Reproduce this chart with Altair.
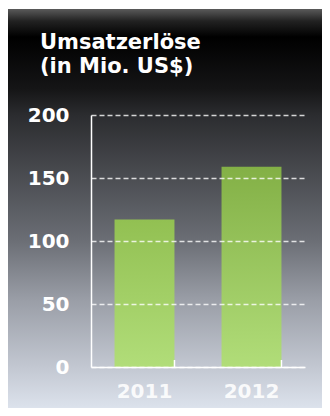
import altair as alt
import pandas as pd

years = ["2011", "2012"]
revenue = [117, 159]
y_ticks = [0, 50, 100, 150, 200]
title_lines = ["Umsatzerlöse", "(in Mio. US$)"]

df = pd.DataFrame({"year": years, "revenue": revenue})
one_df = pd.DataFrame({"k": [0]})

FONT = "DejaVu Sans"

bg = alt.Chart(one_df).mark_rect(
    color=alt.Gradient(
        gradient="linear",
        stops=[
            alt.GradientStop(color="#5a5a5a", offset=0.0),
            alt.GradientStop(color="#222222", offset=0.03),
            alt.GradientStop(color="#000000", offset=0.07),
            alt.GradientStop(color="#151516", offset=0.2),
            alt.GradientStop(color="#2b2c2f", offset=0.265),
            alt.GradientStop(color="#6b6e75", offset=0.58),
            alt.GradientStop(color="#9a9ea7", offset=0.73),
            alt.GradientStop(color="#c3c8d2", offset=0.9),
            alt.GradientStop(color="#dce2ec", offset=1.0),
        ],
        x1=0, x2=0, y1=0, y2=1,
    )
).encode(x=alt.value(-83), x2=alt.value(231), y=alt.value(-106), y2=alt.value(293))

title = alt.Chart(one_df).mark_text(
    text=title_lines, font=FONT, fontSize=21, fontWeight="bold", color="white",
    align="left", baseline="alphabetic", lineHeight=24,
).encode(x=alt.value(-51), y=alt.value(-66))

xenc = alt.X(
    "year:N",
    scale=alt.Scale(paddingInner=0.44, paddingOuter=0.22),
    axis=alt.Axis(
        title=None, labelAngle=0, ticks=False, domainColor="white", domainWidth=1.5,
        labelFont=FONT, labelFontWeight="bold", labelFontSize=20, labelColor="white",
        labelOpacity=0.88, labelPadding=14, zindex=1,
    ),
)
yenc = alt.Y(
    "revenue:Q",
    scale=alt.Scale(domain=[0, 200]),
    axis=alt.Axis(
        title=None, values=y_ticks, ticks=False, domainColor="white", domainWidth=1.5,
        labelFont=FONT, labelFontWeight="bold", labelFontSize=20, labelColor="white",
        labelPadding=22, grid=True, gridColor="white", gridDash=[5, 3], gridWidth=1.5,
        gridOpacity=0.8, zindex=1,
    ),
)

def bar_layer(yr, top, bottom):
    return alt.Chart(df).transform_filter(alt.datum.year == yr).mark_bar(
        color=alt.Gradient(
            gradient="linear",
            stops=[alt.GradientStop(color=top, offset=0), alt.GradientStop(color=bottom, offset=1)],
            x1=0, x2=0, y1=0, y2=1,
        )
    ).encode(x=xenc, y=yenc)

bars1 = bar_layer("2011", "#92c052", "#b1dd79")
bars2 = bar_layer("2012", "#83b046", "#b1dd79")

ticks = alt.Chart(df).mark_rule(color="white", strokeWidth=1.5).encode(
    x=alt.X("year:N", bandPosition=1),
    y=alt.value(245), y2=alt.value(252),
)

chart = alt.layer(bg, title, bars1, bars2, ticks).properties(
    width=214, height=252,
    autosize="none",
    padding={"left": 83, "top": 107, "right": 17, "bottom": 41},
).configure_view(stroke=None).configure(background="white")

chart.save("out.html", embed_options={"renderer": "svg", "actions": False})
